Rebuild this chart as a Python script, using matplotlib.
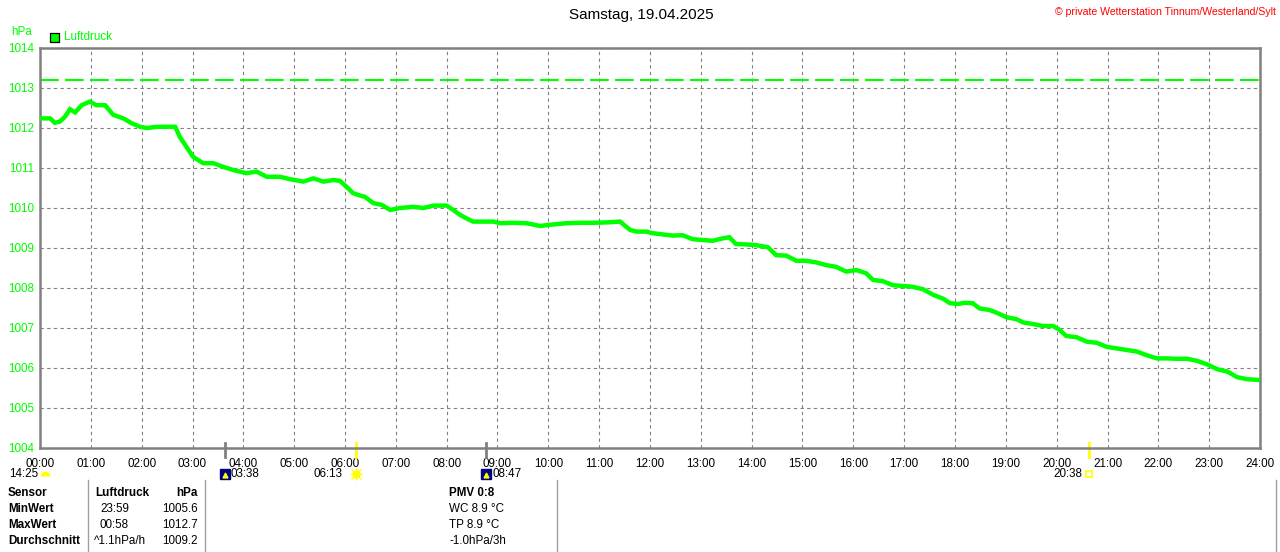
import numpy as np
import matplotlib
matplotlib.use('Agg')
import matplotlib.pyplot as plt
from matplotlib.lines import Line2D
from matplotlib.transforms import blended_transform_factory

# pressure readings (hour of day, hPa)
hours = [0.0, 0.2, 0.29, 0.39, 0.49, 0.59, 0.69, 0.82, 0.98, 1.11, 1.28, 1.44, 1.64, 1.8,
         1.97, 2.1, 2.29, 2.49, 2.66, 2.75, 2.88, 3.01, 3.21, 3.41, 3.6, 3.8, 4.06, 4.26,
         4.46, 4.72, 4.92, 5.18, 5.38, 5.58, 5.77, 5.9, 6.03, 6.16, 6.3, 6.39, 6.56, 6.72,
         6.89, 7.08, 7.34, 7.54, 7.74, 8.0, 8.13, 8.26, 8.39, 8.52, 8.72, 8.92, 9.05, 9.31,
         9.57, 9.84, 10.03, 10.36, 10.62, 10.89, 11.15, 11.41, 11.61, 11.74, 11.93, 12.05,
         12.25, 12.45, 12.64, 12.84, 13.04, 13.23, 13.43, 13.56, 13.69, 13.89, 14.09, 14.32,
         14.48, 14.68, 14.88, 15.07, 15.27, 15.47, 15.66, 15.86, 16.06, 16.25, 16.39, 16.58,
         16.78, 16.98, 17.17, 17.37, 17.57, 17.77, 17.9, 18.06, 18.18, 18.35, 18.48, 18.68,
         18.84, 19.01, 19.21, 19.34, 19.53, 19.73, 19.93, 20.06, 20.19, 20.39, 20.59, 20.79,
         20.98, 21.18, 21.38, 21.58, 21.77, 21.97, 22.17, 22.37, 22.57, 22.76, 22.96, 23.16,
         23.36, 23.55, 23.75, 23.98]
luftdruck = [1012.24, 1012.24, 1012.13, 1012.16, 1012.28, 1012.47, 1012.39, 1012.57, 1012.66,
             1012.57, 1012.57, 1012.33, 1012.24, 1012.12, 1012.03, 1012.0, 1012.03, 1012.03,
             1012.03, 1011.78, 1011.53, 1011.28, 1011.12, 1011.12, 1011.03, 1010.95, 1010.87,
             1010.91, 1010.78, 1010.78, 1010.72, 1010.66, 1010.74, 1010.66, 1010.7, 1010.68,
             1010.53, 1010.37, 1010.31, 1010.28, 1010.12, 1010.08, 1009.95, 1010.0, 1010.03,
             1010.0, 1010.06, 1010.06, 1009.95, 1009.83, 1009.74, 1009.66, 1009.66, 1009.66,
             1009.62, 1009.63, 1009.62, 1009.55, 1009.58, 1009.62, 1009.63, 1009.63, 1009.64,
             1009.66, 1009.45, 1009.41, 1009.41, 1009.37, 1009.34, 1009.31, 1009.32, 1009.22,
             1009.2, 1009.18, 1009.24, 1009.27, 1009.1, 1009.09, 1009.07, 1009.02, 1008.82,
             1008.81, 1008.68, 1008.68, 1008.64, 1008.57, 1008.53, 1008.41, 1008.45, 1008.37,
             1008.2, 1008.17, 1008.07, 1008.05, 1008.03, 1007.97, 1007.83, 1007.73, 1007.62,
             1007.6, 1007.63, 1007.62, 1007.49, 1007.45, 1007.37, 1007.27, 1007.22, 1007.14,
             1007.1, 1007.05, 1007.05, 1006.95, 1006.8, 1006.77, 1006.66, 1006.63, 1006.53,
             1006.49, 1006.45, 1006.41, 1006.32, 1006.24, 1006.24, 1006.23, 1006.23, 1006.18,
             1006.09, 1005.97, 1005.91, 1005.77, 1005.72, 1005.7]
ref_level = 1013.2

x_ticks = list(range(25))
x_labels = ['%02d:00' % h for h in x_ticks]
y_ticks = list(range(1004, 1015))

# sun / moon events
moon_rise = (3 + 38 / 60, '03:38')
sun_rise = (6 + 13 / 60, '06:13')
moon_set = (8 + 47 / 60, '08:47')
sun_set = (20 + 38 / 60, '20:38')
moon_label = '14:25'

table_head = ['Sensor', 'Luftdruck', 'hPa']
table_rows = [['MinWert', '23:59', '1005.6'],
              ['MaxWert', '00:58', '1012.7'],
              ['Durchschnitt', '^1.1hPa/h', '1009.2']]
pmv_lines = ['PMV 0:8', 'WC 8.9 °C', 'TP 8.9 °C', '-1.0hPa/3h']

GREEN = '#00ff00'
GRAY = '#808080'
W, H = 1280, 552
FS = 8.4
plt.rcParams['font.family'] = ['Liberation Sans', 'DejaVu Sans']


def px(x, y):
    return x / W, 1 - y / H


fig = plt.figure(figsize=(12.8, 5.52), dpi=100)
fig.patch.set_facecolor('white')
ax = fig.add_axes([40 / W, 1 - 448 / H, 1220 / W, 400 / H])

ax.plot(hours, luftdruck, color=GREEN, linewidth=3.2, solid_joinstyle='miter', zorder=3)
ax.axhline(ref_level, color=GREEN, linewidth=1.5, linestyle=(0, (9, 3)), zorder=2)

ax.set_xlim(0, 24)
ax.set_ylim(1004, 1014)
ax.set_xticks(x_ticks)
ax.set_xticklabels(x_labels, fontsize=FS, color='black')
ax.set_yticks(y_ticks)
ax.set_yticklabels([str(v) for v in y_ticks], fontsize=FS, color=GREEN)
ax.tick_params(length=0)
ax.tick_params(axis='x', pad=7)
ax.tick_params(axis='y', pad=4)
ax.grid(True, color=GRAY, linestyle=(0, (3, 3)), linewidth=0.8)
for s in ax.spines.values():
    s.set_color(GRAY)
    s.set_linewidth(1.8)

# sun / moon markers below the axis
tr = blended_transform_factory(ax.transData, ax.transAxes)
for (t, lab), col in [(moon_rise, GRAY), (moon_set, GRAY), (sun_rise, 'yellow'), (sun_set, 'yellow')]:
    ax.plot([t, t], [0.0125, -0.0225], color=col, linewidth=2, transform=tr, clip_on=False)

icon_y = -0.064
# moon rise / set: navy box then label to the right
for t, lab in [moon_rise, moon_set]:
    ax.plot([t], [icon_y], marker='s', ms=7, color='#000080', transform=tr, clip_on=False)
    ax.plot([t], [icon_y - 0.004], marker='^', ms=3.5, color='yellow', transform=tr, clip_on=False)
    ax.text(t + 0.11, icon_y, lab, transform=tr, fontsize=FS, ha='left', va='center')
# sunrise: label to the left, sun icon
t, lab = sun_rise
ax.plot([t], [icon_y], marker='o', ms=5, color='yellow', transform=tr, clip_on=False)
ax.plot([t], [icon_y], marker='+', ms=9, mew=1, color='yellow', transform=tr, clip_on=False)
ax.plot([t], [icon_y], marker='x', ms=7, mew=1, color='yellow', transform=tr, clip_on=False)
ax.text(t - 0.27, icon_y, lab, transform=tr, fontsize=FS, ha='right', va='center')
# sunset: label to the left, small hollow square
t, lab = sun_set
ax.plot([t], [icon_y], marker='s', ms=4.5, mfc='white', mec='yellow', mew=1.2,
        transform=tr, clip_on=False)
ax.text(t - 0.12, icon_y, lab, transform=tr, fontsize=FS, ha='right', va='center')
# moon phase at the start of the day
ax.plot([0.1], [icon_y - 0.005], marker='o', ms=7, fillstyle='top', mew=0, color='yellow',
        transform=tr, clip_on=False)
ax.text(-0.04, icon_y, moon_label, transform=tr, fontsize=FS, ha='right', va='center')

# header texts
fig.text(*px(641, 15), 'Samstag, 19.04.2025', fontsize=11, ha='center', va='center')
fig.text(*px(1276, 12), '© private Wetterstation Tinnum/Westerland/Sylt', fontsize=7.6,
         color='red', ha='right', va='center')
fig.text(*px(11, 32), 'hPa', fontsize=FS, color=GREEN, ha='left', va='center')
fig.add_artist(plt.Rectangle(px(50, 42), 9 / W, 9 / H, facecolor=GREEN, edgecolor='black',
                             linewidth=0.9, transform=fig.transFigure))
fig.text(*px(64, 37.5), 'Luftdruck', fontsize=FS, color=GREEN, ha='left', va='center')

# info table at the bottom
for xline in [88, 205, 557, 1276]:
    fig.add_artist(Line2D([xline / W, xline / W], [1 - 480 / H, 0], color='#a0a0a0',
                          linewidth=1, transform=fig.transFigure))
row_y = [493, 509, 525, 541]
fig.text(*px(8, row_y[0]), table_head[0], fontsize=FS, fontweight='bold', va='center')
fig.text(*px(95, row_y[0]), table_head[1], fontsize=FS, fontweight='bold', va='center')
fig.text(*px(198, row_y[0]), table_head[2], fontsize=FS, fontweight='bold', va='center', ha='right')
for i, (name, when, val) in enumerate(table_rows):
    y = row_y[i + 1]
    fig.text(*px(8, y), name, fontsize=FS, fontweight='bold', va='center')
    fig.text(*px(100 if i < 2 else 94, y), when, fontsize=FS, va='center')
    fig.text(*px(198, y), val, fontsize=FS, va='center', ha='right')
for i, line in enumerate(pmv_lines):
    fig.text(*px(449, row_y[i]), line, fontsize=FS, va='center',
             fontweight='bold' if i == 0 else 'normal')

fig.savefig('out.png', dpi=100)
